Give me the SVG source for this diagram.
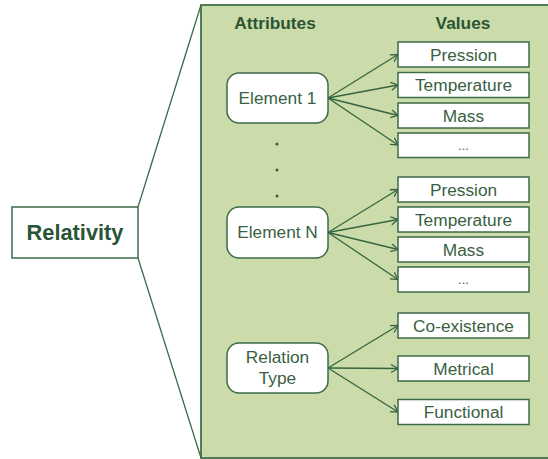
<svg xmlns="http://www.w3.org/2000/svg" width="548" height="459" viewBox="0 0 548 459">
<defs>
<style>
.panel{fill:#ccdbaa;stroke:#2f5f3b;stroke-width:1.6}
.attr{fill:#ffffff;stroke:#3c6b48;stroke-width:1.5}
.val{fill:#ffffff;stroke:#3c6b48;stroke-width:1.5}
.main{fill:#ffffff;stroke:#3c6b48;stroke-width:1.5}
.t{font-family:"Liberation Sans",Arial,sans-serif;font-size:17.3px;fill:#3a5f43;text-anchor:middle}
.h{font-family:"Liberation Sans",Arial,sans-serif;font-size:17.3px;font-weight:bold;fill:#2a5535;text-anchor:middle}
.big{font-family:"Liberation Sans",Arial,sans-serif;font-size:21.8px;font-weight:bold;fill:#2a5535;text-anchor:middle}
.c{stroke:#356540;stroke-width:1.3;fill:none}
.zoom{stroke:#3c6b48;stroke-width:1.3;fill:none}
.dot{fill:#2f5f3b}
</style>
<marker id="arr" markerWidth="10" markerHeight="10" refX="9" refY="5" orient="auto" markerUnits="userSpaceOnUse">
<path d="M2,1 L9,5 L2,9" fill="none" stroke="#356540" stroke-width="1.3"/>
</marker>
</defs>

<g id="panel">
<rect class="panel" x="201" y="5" width="360" height="453"/>
<text class="h" x="275" y="29">Attributes</text>
<text class="h" x="463" y="29">Values</text>
<circle class="dot" cx="277" cy="144" r="1.5"/>
<circle class="dot" cx="277" cy="170" r="1.5"/>
<circle class="dot" cx="277" cy="196" r="1.5"/>
</g>

<g id="zoom-lines">
<line class="zoom" x1="138" y1="207" x2="201" y2="5"/>
<line class="zoom" x1="138" y1="258" x2="201" y2="458"/>
</g>

<g id="relativity">
<rect class="main" x="12" y="207" width="126" height="51"/>
<text class="big" x="75" y="240">Relativity</text>
</g>

<g id="connectors">
<line class="c" x1="328" y1="98" x2="398" y2="54.5" marker-end="url(#arr)"/>
<line class="c" x1="328" y1="98" x2="398" y2="85" marker-end="url(#arr)"/>
<line class="c" x1="328" y1="98" x2="398" y2="115.5" marker-end="url(#arr)"/>
<line class="c" x1="328" y1="98" x2="398" y2="145" marker-end="url(#arr)"/>
<line class="c" x1="328" y1="232.5" x2="398" y2="189.5" marker-end="url(#arr)"/>
<line class="c" x1="328" y1="232.5" x2="398" y2="219.5" marker-end="url(#arr)"/>
<line class="c" x1="328" y1="232.5" x2="398" y2="249.5" marker-end="url(#arr)"/>
<line class="c" x1="328" y1="232.5" x2="398" y2="279.5" marker-end="url(#arr)"/>
<line class="c" x1="328" y1="368" x2="398" y2="325.5" marker-end="url(#arr)"/>
<line class="c" x1="328" y1="368" x2="398" y2="368.5" marker-end="url(#arr)"/>
<line class="c" x1="328" y1="368" x2="398" y2="412" marker-end="url(#arr)"/>
</g>

<g id="element1">
<rect class="attr" x="227" y="73" width="101" height="50" rx="12"/>
<text class="t" x="277.5" y="104">Element 1</text>
</g>
<g id="elementN">
<rect class="attr" x="227" y="207" width="101" height="51" rx="12"/>
<text class="t" x="277.5" y="238">Element N</text>
</g>
<g id="relationType">
<rect class="attr" x="227" y="343" width="101" height="50" rx="12"/>
<text class="t" x="277.5" y="363">Relation</text>
<text class="t" x="277.5" y="384">Type</text>
</g>

<g id="v-pression1"><rect class="val" x="398" y="42" width="131" height="25"/><text class="t" x="463.5" y="60.5">Pression</text></g>
<g id="v-temperature1"><rect class="val" x="398" y="72.5" width="131" height="25"/><text class="t" x="463.5" y="91">Temperature</text></g>
<g id="v-mass1"><rect class="val" x="398" y="103" width="131" height="25"/><text class="t" x="463.5" y="121.5">Mass</text></g>
<g id="v-etc1"><rect class="val" x="398" y="133" width="131" height="24.5"/><text class="t" x="463.5" y="150" style="font-size:13px">...</text></g>

<g id="v-pression2"><rect class="val" x="398" y="177" width="131" height="25"/><text class="t" x="463.5" y="195.5">Pression</text></g>
<g id="v-temperature2"><rect class="val" x="398" y="207" width="131" height="25"/><text class="t" x="463.5" y="225.5">Temperature</text></g>
<g id="v-mass2"><rect class="val" x="398" y="237" width="131" height="25"/><text class="t" x="463.5" y="255.5">Mass</text></g>
<g id="v-etc2"><rect class="val" x="398" y="267" width="131" height="25"/><text class="t" x="463.5" y="284" style="font-size:13px">...</text></g>

<g id="v-coexistence"><rect class="val" x="398" y="313" width="131" height="25"/><text class="t" x="463.5" y="331.5">Co-existence</text></g>
<g id="v-metrical"><rect class="val" x="398" y="356" width="131" height="25"/><text class="t" x="463.5" y="374.5">Metrical</text></g>
<g id="v-functional"><rect class="val" x="398" y="399.5" width="131" height="25"/><text class="t" x="463.5" y="418">Functional</text></g>
</svg>
